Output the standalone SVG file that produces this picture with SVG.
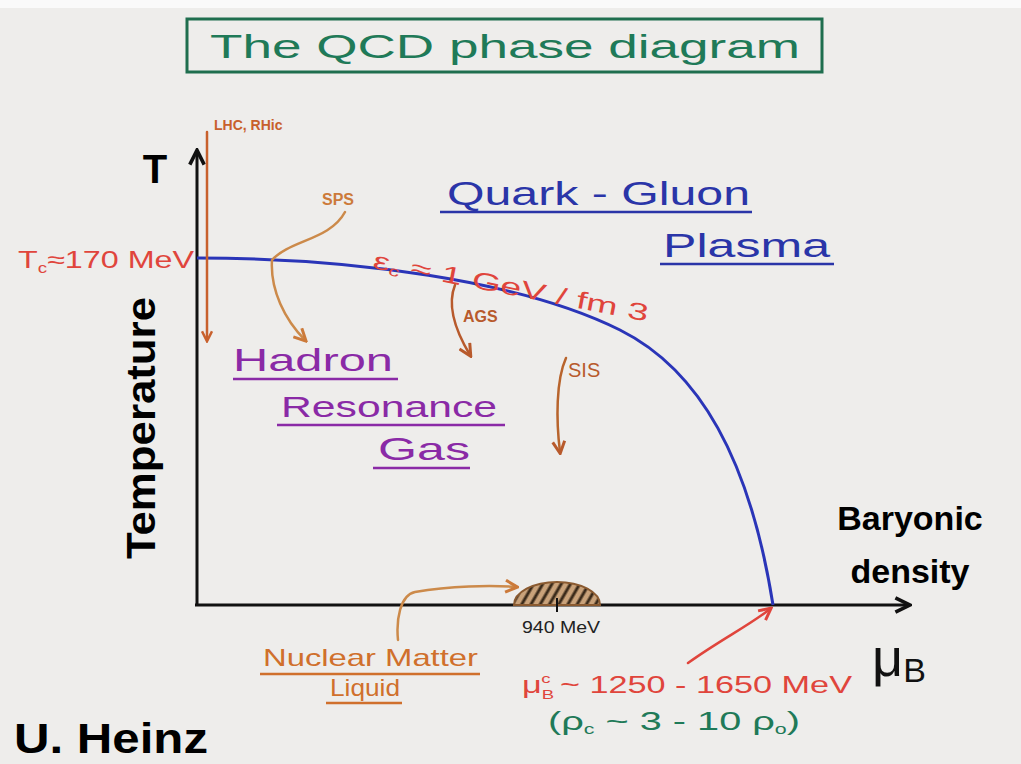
<svg xmlns="http://www.w3.org/2000/svg" width="1021" height="764" viewBox="0 0 1021 764">
<defs>
<style>
.hw{font-family:"Liberation Sans","DejaVu Sans",sans-serif;}
.bold{font-family:"Liberation Sans",Arial,sans-serif;font-weight:bold;fill:#000;}
.red{fill:#e0453c;}
.org{fill:#cc7a3a;}
.brn{fill:#b85a2c;}
.blue{fill:#2a35a8;}
.purp{fill:#8a2aa6;}
.grn{fill:#1f7a58;}
.ul{stroke-width:2.5;fill:none;}
.conn{fill:none;stroke-width:2.5;stroke-linecap:round;}
</style>
<marker id="ahK" viewBox="0 0 10 10" refX="8" refY="5" markerWidth="6" markerHeight="6" orient="auto"><path d="M1,1 L9,5 L1,9" fill="none" stroke="#111" stroke-width="2"/></marker>
<marker id="ahO" viewBox="0 0 10 10" refX="8" refY="5" markerWidth="6" markerHeight="6" orient="auto"><path d="M1,1 L9,5 L1,9" fill="none" stroke="#cc7a3a" stroke-width="2"/></marker>
<marker id="ahB" viewBox="0 0 10 10" refX="8" refY="5" markerWidth="6" markerHeight="6" orient="auto"><path d="M1,1 L9,5 L1,9" fill="none" stroke="#b85a2c" stroke-width="2"/></marker>
<marker id="ahR" viewBox="0 0 10 10" refX="8" refY="5" markerWidth="6" markerHeight="6" orient="auto"><path d="M1,1 L9,5 L1,9" fill="none" stroke="#e0453c" stroke-width="2"/></marker>
<marker id="ahL" viewBox="0 0 10 10" refX="8" refY="5" markerWidth="5" markerHeight="5" orient="auto"><path d="M1,1 L9,5 L1,9" fill="none" stroke="#c8602c" stroke-width="2"/></marker>
<pattern id="hatch" patternUnits="userSpaceOnUse" width="8" height="8" patternTransform="rotate(30)"><rect width="8" height="8" fill="#c9a27a"/><line x1="2" y1="0" x2="2" y2="8" stroke="#3a2a1a" stroke-width="3"/></pattern>
</defs>
<rect width="1021" height="764" fill="#eeedeb"/>
<rect width="1021" height="8" fill="#fafafa"/>

<g id="title">
<rect x="187" y="19" width="635" height="53" fill="none" stroke="#1f6e4e" stroke-width="3"/>
<text x="505" y="58" text-anchor="middle" class="hw grn" font-size="34" textLength="590" lengthAdjust="spacingAndGlyphs">The QCD phase diagram</text>
</g>

<g id="axes">
<line x1="197" y1="606" x2="197" y2="152" stroke="#111" stroke-width="3" marker-end="url(#ahK)"/>
<line x1="195" y1="605" x2="908" y2="605" stroke="#111" stroke-width="3" marker-end="url(#ahK)"/>
<text x="155" y="183" text-anchor="middle" class="bold" font-size="40">T</text>
<text transform="translate(155,428) rotate(-90)" text-anchor="middle" class="bold" font-size="40" textLength="262" lengthAdjust="spacingAndGlyphs">Temperature</text>
<text x="910" y="530" text-anchor="middle" class="bold" font-size="34">Baryonic</text>
<text x="910" y="583" text-anchor="middle" class="bold" font-size="34">density</text>
<text x="872" y="676" class="hw" font-size="54" fill="#111">μ<tspan font-size="34" dy="6">B</tspan></text>
</g>

<g id="phase-boundary">
<path d="M197,258 C350,258 520,280 620,330 C700,370 750,460 773,605" fill="none" stroke="#2a35b8" stroke-width="3"/>
</g>

<g id="tc-label">
<text x="18" y="268" class="hw red" font-size="24" textLength="176" lengthAdjust="spacingAndGlyphs">T<tspan font-size="14" dy="5">c</tspan><tspan dy="-5">≈170 MeV</tspan></text>
</g>

<g id="epsilon-label">
<text transform="translate(372,268) rotate(11)" class="hw red" font-size="24" textLength="280" lengthAdjust="spacingAndGlyphs">ε<tspan font-size="14" dy="4">c</tspan><tspan dy="-4"> ≈ 1 GeV / fm 3</tspan></text>
</g>

<g id="qgp">
<text x="447" y="205" class="hw blue" font-size="34" textLength="303" lengthAdjust="spacingAndGlyphs">Quark - Gluon</text>
<line x1="440" y1="212" x2="752" y2="212" class="ul" stroke="#2a35a8"/>
<text x="663" y="257" class="hw blue" font-size="34" textLength="167" lengthAdjust="spacingAndGlyphs">Plasma</text>
<line x1="660" y1="264" x2="834" y2="264" class="ul" stroke="#2a35a8"/>
</g>

<g id="hrg">
<text x="233" y="371" class="hw purp" font-size="32" textLength="160" lengthAdjust="spacingAndGlyphs">Hadron</text>
<line x1="233" y1="379" x2="398" y2="379" class="ul" stroke="#8a2aa6"/>
<text x="281" y="417" class="hw purp" font-size="30" textLength="216" lengthAdjust="spacingAndGlyphs">Resonance</text>
<line x1="277" y1="425" x2="505" y2="425" class="ul" stroke="#8a2aa6"/>
<text x="378" y="460" class="hw purp" font-size="32" textLength="92" lengthAdjust="spacingAndGlyphs">Gas</text>
<line x1="373" y1="468" x2="470" y2="468" class="ul" stroke="#8a2aa6"/>
</g>

<g id="lhc-rhic">
<text x="214" y="130" class="hw" fill="#c8602c" font-size="14" font-weight="bold">LHC, RHic</text>
</g>
<g id="sps">
<text x="322" y="205" class="hw org" font-size="16" font-weight="bold">SPS</text>
</g>
<g id="ags">
<text x="463" y="322" class="hw brn" font-size="16" font-weight="bold">AGS</text>
</g>
<g id="sis">
<text x="568" y="377" class="hw brn" font-size="20">SIS</text>
</g>

<g id="nuclear-matter">
<path d="M514,605 A43,23 0 0 1 600,605 Z" fill="url(#hatch)" stroke="#8a5a30" stroke-width="2"/>
<line x1="557" y1="598" x2="557" y2="612" stroke="#111" stroke-width="2"/>
<text x="522" y="633" class="hw" font-size="17" fill="#222" textLength="78" lengthAdjust="spacingAndGlyphs">940 MeV</text>
<text x="263" y="666" class="hw" font-size="24" fill="#d0702c" textLength="215" lengthAdjust="spacingAndGlyphs">Nuclear Matter</text>
<line x1="260" y1="674" x2="480" y2="674" class="ul" stroke="#d0702c" stroke-width="2"/>
<text x="330" y="696" class="hw" font-size="24" fill="#d0702c" textLength="70" lengthAdjust="spacingAndGlyphs">Liquid</text>
<line x1="326" y1="703" x2="402" y2="703" class="ul" stroke="#d0702c" stroke-width="2"/>
</g>

<g id="mu-critical">
<text x="522" y="693" class="hw red" font-size="24" textLength="330" lengthAdjust="spacingAndGlyphs">μ<tspan font-size="13" dy="6">B</tspan><tspan font-size="13" dx="-9" dy="-16">c</tspan><tspan dy="10"> ~ 1250 - 1650 MeV</tspan></text>
<text x="548" y="730" class="hw grn" font-size="26" textLength="252" lengthAdjust="spacingAndGlyphs">(ρ<tspan font-size="14" dy="4">c</tspan><tspan dy="-4"> ~ 3 - 10 ρ</tspan><tspan font-size="14" dy="4">o</tspan><tspan dy="-4">)</tspan></text>
</g>

<g id="author">
<text x="14" y="753" class="bold" font-size="42" textLength="194" lengthAdjust="spacingAndGlyphs">U. Heinz</text>
</g>

<g id="connectors">
<path d="M207,132 L207,340" class="conn" stroke="#c8602c" marker-end="url(#ahL)"/>
<path d="M345,212 C330,240 290,240 272,260 C270,290 285,320 305,340" class="conn" stroke="#cc8a4a" marker-end="url(#ahO)"/>
<path d="M455,285 C447,305 455,330 470,355" class="conn" stroke="#b85a2c" marker-end="url(#ahB)"/>
<path d="M566,358 C556,380 556,420 560,452" class="conn" stroke="#b8642c" marker-end="url(#ahB)"/>
<path d="M398,640 C396,620 400,595 415,592 C450,586 490,585 516,587" class="conn" stroke="#cc8a4a" marker-end="url(#ahO)"/>
<path d="M688,663 C720,640 750,625 770,609" class="conn" stroke="#e0453c" marker-end="url(#ahR)"/>
</g>
</svg>
